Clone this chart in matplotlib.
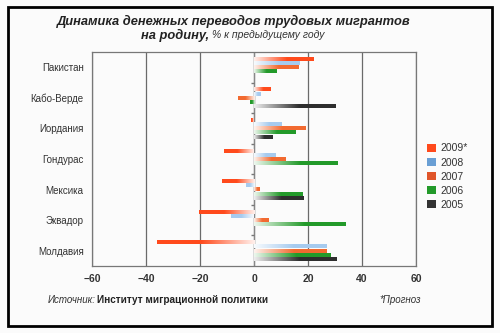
import matplotlib
matplotlib.use('Agg')
import matplotlib.pyplot as plt
import numpy as np
from matplotlib.patches import Rectangle, Patch
from matplotlib.colors import to_rgb

plt.rcParams['font.family'] = ['Liberation Sans', 'DejaVu Sans']

# Страны (сверху вниз) и изменения переводов, % к предыдущему году
countries = ['Пакистан', 'Кабо-Верде', 'Иордания', 'Гондурас', 'Мексика', 'Эквадор', 'Молдавия']
years = ['2009*', '2008', '2007', '2006', '2005']
v2009 = [22, 6, -1, -11, -12, -20.5, -36]
v2008 = [17, 2.5, 10, 8, -3, -8.5, 27]
v2007 = [16.5, -6, 19, 11.5, 2, 5.5, 27]
v2006 = [8.5, -1.5, 15.5, 31, 18, 34, 28.5]
v2005 = [np.nan, 30, 7, np.nan, 18.5, np.nan, 30.5]
series = [v2009, v2008, v2007, v2006, v2005]

bar_colors = ['#ff4a1c', '#a6cbef', '#f26a30', '#239a2a', '#2e2e2e']
legend_colors = ['#ff4a1c', '#6a9fd4', '#e0552a', '#239a2a', '#333333']

fig = plt.figure(figsize=(5, 3.33), dpi=100)
fig.patch.set_facecolor('#fbfbfb')
ax = fig.add_axes([92 / 500, 67 / 333, 324 / 500, 214 / 333])
ax.set_facecolor('#fbfbfb')

n = len(countries)
ypos = np.arange(n)
step = 0.135
h = 0.12


def gradient_bar(ax, y, value, color):
    # полоса с растушёвкой от нуля к концу
    rgb = np.array(to_rgb(color))
    t = np.linspace(0, 1, 200)
    k = np.clip(0.08 + t / 0.6, 0, 1)
    img = np.ones((1, 200, 3)) * (1 - k)[None, :, None] + rgb[None, None, :] * k[None, :, None]
    ax.imshow(img, extent=[0, value, y + h / 2, y - h / 2], aspect='auto',
              interpolation='bilinear', zorder=3)


for j, vals in enumerate(series):
    for i, v in enumerate(vals):
        if np.isnan(v) or v == 0:
            continue
        y = ypos[i] + (j - 2) * step
        gradient_bar(ax, y, v, bar_colors[j])

ax.set_xlim(-60, 60)
ax.set_ylim(n - 0.5, -0.5)
ax.set_xticks(np.arange(-60, 61, 20))
ax.set_xticklabels(['−60', '−40', '−20', '0', '20', '40', '60'],
                   fontweight='bold', fontsize=7.5, color='#333333')
ax.tick_params(axis='x', length=0, pad=6)
ax.grid(axis='x', color='#6a6a6a', lw=0.9, zorder=1)
ax.set_yticks(ypos)
ax.set_yticklabels(countries, fontsize=7, color='#333333',
                   family=['Liberation Sans Narrow', 'Liberation Sans'])
ax.tick_params(axis='y', length=0, pad=6)
for s in ax.spines.values():
    s.set_color('#777777')
    s.set_linewidth(0.9)

# нулевая ось с засечками между странами
ax.axvline(0, color='#888888', lw=0.9, zorder=2)
bounds = ypos[:-1] + 0.5
ax.plot(np.zeros(len(bounds)), bounds, ls='none', marker=0, markersize=2,
        color='#777777', zorder=2)

handles = [Patch(facecolor=c, edgecolor='none') for c in legend_colors]
fig.legend(handles, years, loc='upper left', bbox_to_anchor=(418 / 500, 1 - 134 / 333),
           frameon=False, fontsize=7.5, handlelength=0.8, handleheight=0.8,
           handletextpad=0.5, labelspacing=0.4, labelcolor='#333333')

fig.text(0.468, 1 - 21 / 333, 'Динамика денежных переводов трудовых мигрантов',
         ha='center', va='center', fontsize=9.3, fontweight='bold', fontstyle='italic',
         color='#222222')
fig.text(209 / 500, 1 - 35 / 333, 'на родину,', ha='right', va='center', fontsize=9.3,
         fontweight='bold', fontstyle='italic', color='#222222')
fig.text(212 / 500, 1 - 35 / 333, '% к предыдущему году', ha='left', va='center',
         fontsize=7.5, fontstyle='italic', color='#333333')

fig.text(48 / 500, 1 - 300 / 333, 'Источник:', ha='left', va='center', fontsize=7,
         fontstyle='italic', color='#333333')
fig.text(97 / 500, 1 - 300 / 333, 'Институт миграционной политики', ha='left',
         va='center', fontsize=7.2, fontweight='bold', color='#222222')
fig.text(421 / 500, 1 - 300 / 333, '*Прогноз', ha='right', va='center', fontsize=7,
         fontstyle='italic', color='#333333')

fig.patches.append(Rectangle((8 / 500, 7 / 333), 484 / 500, 319 / 333,
                             transform=fig.transFigure, fill=False,
                             edgecolor='black', lw=2))

fig.savefig('out.png', dpi=100, facecolor=fig.get_facecolor())
